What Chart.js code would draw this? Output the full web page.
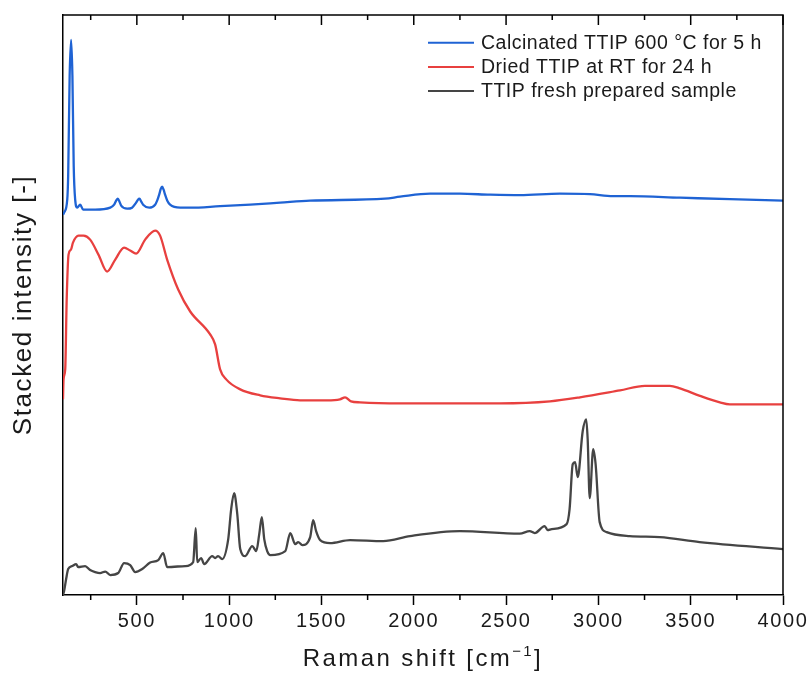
<!DOCTYPE html>
<html>
<head>
<meta charset="utf-8">
<script src="https://cdn.jsdelivr.net/npm/chart.js@4.4.1/dist/chart.umd.min.js"></script>
<style>
  body { margin: 0; background: #fff; }
  canvas { display: block; }
</style>
</head>
<body>
<canvas id="raman" width="812" height="688"></canvas>
<script>
// Raman shift [cm-1] and stacked intensity (arbitrary units)
const calcX = [100, 106, 123, 128, 136, 144, 151, 158, 166, 177, 193, 209, 274, 356, 377, 388, 397, 406, 415, 448, 474, 496, 506, 514, 524, 534, 567, 599, 610, 621, 630, 637, 645, 653, 665, 680, 735, 789, 951, 1114, 1276, 1438, 1844, 1926, 2088, 2250, 2413, 2575, 2792, 2954, 3079, 3171, 3442, 3712, 4000];
const calcY = [381, 383, 396, 420, 520, 556, 520, 430, 396, 388, 391, 386, 386, 388, 391, 395, 397, 394, 390, 387, 388, 393, 396, 397, 394, 391, 388, 391, 395, 401, 407, 409, 406, 401, 395, 391, 388, 388, 389.5, 391, 393, 395, 397, 399, 402, 402, 401, 400.5, 402, 401.5, 399.5, 399.5, 398, 396.5, 395];

const driedX = [100, 103, 112, 120, 130, 143, 154, 184, 211, 247, 292, 339, 383, 431, 464, 496, 545, 599, 626, 664, 724, 789, 897, 924, 951, 984, 1060, 1168, 1276, 1384, 1530, 1600, 1628, 1660, 1709, 1926, 2467, 2738, 2900, 3117, 3252, 3387, 3442, 3550, 3658, 3712, 4000];
const driedY = [196, 216, 226, 296, 341, 346, 353, 360, 360, 356, 341, 324, 336, 348, 345, 342, 356, 365, 360, 336, 306, 284, 261, 251, 226, 216, 206, 200, 197, 195, 195, 196, 198, 194, 193, 192, 192, 194, 198, 205, 209.5, 209.5, 207, 199.5, 193, 191, 191];

const freshX = [100, 106, 117, 128, 150, 171, 182, 220, 247, 274, 301, 329, 356, 399, 431, 464, 491, 529, 572, 616, 643, 664, 762, 805, 819, 827, 848, 865, 908, 924, 940, 962, 995, 1011, 1027, 1044, 1060, 1087, 1125, 1147, 1163, 1177, 1190, 1206, 1223, 1304, 1331, 1358, 1374, 1396, 1439, 1455, 1471, 1493, 1547, 1655, 1834, 1980, 2249, 2574, 2628, 2655, 2709, 2725, 2747, 2828, 2844, 2861, 2874, 2888, 2915, 2934, 2942, 2953, 2972, 2985, 3007, 3045, 3169, 3332, 3548, 4000];
const freshY = [0, 4, 16, 26, 29, 31, 28, 29, 25, 23, 22, 23.5, 20, 22, 32, 30, 23, 26, 32.5, 35, 42, 28, 29, 33, 67, 33, 37, 31, 39, 37, 39, 36, 56, 86, 102, 81, 46, 39, 49, 44, 61, 78, 56, 44, 40, 44, 62, 51, 53, 50, 58, 75, 64, 55, 52, 55, 54, 59, 64, 61.5, 64, 62, 69, 65, 66, 71, 86, 131, 133, 118, 164, 176, 156, 97, 146, 131, 73, 63, 59, 58, 53, 46];

const seriesNames = ['Calcinated TTIP 600 °C for 5 h', 'Dried TTIP at RT for 24 h', 'TTIP fresh prepared sample'];
const seriesColors = ['#1f63d4', '#e8403f', '#454545'];
const xTicks = [500, 1000, 1500, 2000, 2500, 3000, 3500, 4000];
const xMinorTicks = [250, 750, 1250, 1750, 2250, 2750, 3250, 3750];

const FONT = '"Liberation Sans", Arial, sans-serif';

function toPoints(xs, ys) {
    return xs.map((x, i) => ({x: x, y: ys[i]}));
}

const frame = {
    id: 'frame',
    beforeDraw(chart) {
        chart.ctx.letterSpacing = '1.6px';
    },
    afterDraw(chart) {
        const ctx = chart.ctx;
        const a = chart.chartArea;
        const xs = chart.scales.x;
        ctx.save();
        ctx.strokeStyle = '#000';
        ctx.lineWidth = 1.5;
        // top and right border
        ctx.beginPath();
        ctx.moveTo(a.left, a.top);
        ctx.lineTo(a.right, a.top);
        ctx.lineTo(a.right, a.bottom);
        ctx.stroke();
        // ticks: top inward, bottom minor outward
        ctx.beginPath();
        xTicks.forEach(v => {
            const px = xs.getPixelForValue(v);
            ctx.moveTo(px, a.top);
            ctx.lineTo(px, a.top + 10);
        });
        xMinorTicks.forEach(v => {
            const px = xs.getPixelForValue(v);
            ctx.moveTo(px, a.top);
            ctx.lineTo(px, a.top + 5);
            ctx.moveTo(px, a.bottom);
            ctx.lineTo(px, a.bottom + 5);
        });
        ctx.stroke();

        // x axis title with superscript
        ctx.fillStyle = '#1a1a1a';
        ctx.textBaseline = 'alphabetic';
        ctx.letterSpacing = '2.4px';
        const mainFont = '24px ' + FONT;
        const supFont = '15px ' + FONT;
        ctx.font = mainFont;
        const t1 = 'Raman shift [cm';
        const t3 = ']';
        const w1 = ctx.measureText(t1).width;
        const w3 = ctx.measureText(t3).width;
        ctx.font = supFont;
        const t2 = '\u22121';
        const w2 = ctx.measureText(t2).width;
        let x0 = (a.left + a.right) / 2 - (w1 + w2 + w3) / 2;
        const base = 666;
        ctx.font = mainFont;
        ctx.fillText(t1, x0, base);
        ctx.font = supFont;
        ctx.fillText(t2, x0 + w1, base - 10);
        ctx.font = mainFont;
        ctx.fillText(t3, x0 + w1 + w2, base);

        // legend inside the plot, top right
        ctx.letterSpacing = '0.5px';
        ctx.font = '19.5px ' + FONT;
        ctx.textBaseline = 'middle';
        chart.data.datasets.forEach((ds, i) => {
            const y = 42.7 + i * 24.2;
            ctx.strokeStyle = ds.borderColor;
            ctx.lineWidth = 2;
            ctx.beginPath();
            ctx.moveTo(428, y);
            ctx.lineTo(474, y);
            ctx.stroke();
            ctx.fillStyle = '#1a1a1a';
            ctx.fillText(ds.label, 481, y + 1);
        });
        ctx.restore();
    }
};

const ctx = document.getElementById('raman').getContext('2d');

const chart = new Chart(ctx, {
    type: 'line',
    data: {
        datasets: [
            {label: seriesNames[0], data: toPoints(calcX, calcY), borderColor: seriesColors[0]},
            {label: seriesNames[1], data: toPoints(driedX, driedY), borderColor: seriesColors[1]},
            {label: seriesNames[2], data: toPoints(freshX, freshY), borderColor: seriesColors[2]}
        ]
    },
    options: {
        responsive: false,
        animation: false,
        devicePixelRatio: 1,
        layout: {padding: {top: 15, right: 29, left: 0, bottom: 0}},
        elements: {
            line: {borderWidth: 2.3, cubicInterpolationMode: 'monotone', fill: false},
            point: {radius: 0}
        },
        plugins: {
            legend: {display: false},
            tooltip: {enabled: false}
        },
        scales: {
            x: {
                type: 'linear',
                min: 100,
                max: 4000,
                afterBuildTicks: s => { s.ticks = xTicks.map(v => ({value: v})); },
                afterFit: s => { s.height = 93; },
                ticks: {
                    color: '#1a1a1a',
                    font: {family: FONT, size: 20},
                    padding: 4,
                    maxRotation: 0,
                    autoSkip: false,
                    callback: v => String(v)
                },
                grid: {
                    display: true,
                    drawOnChartArea: false,
                    drawTicks: true,
                    tickLength: 10,
                    tickWidth: 1.5,
                    tickColor: '#000',
                    color: '#000'
                },
                border: {display: true, color: '#000', width: 1.5}
            },
            y: {
                min: 0,
                max: 581,
                afterFit: s => { s.width = 63; },
                ticks: {display: false},
                grid: {display: false},
                border: {display: true, color: '#000', width: 1.5},
                title: {
                    display: true,
                    text: 'Stacked intensity [-]',
                    color: '#1a1a1a',
                    font: {family: FONT, size: 26},
                    padding: {top: 8, bottom: 0}
                }
            }
        }
    },
    plugins: [frame]
});
</script>
</body>
</html>
